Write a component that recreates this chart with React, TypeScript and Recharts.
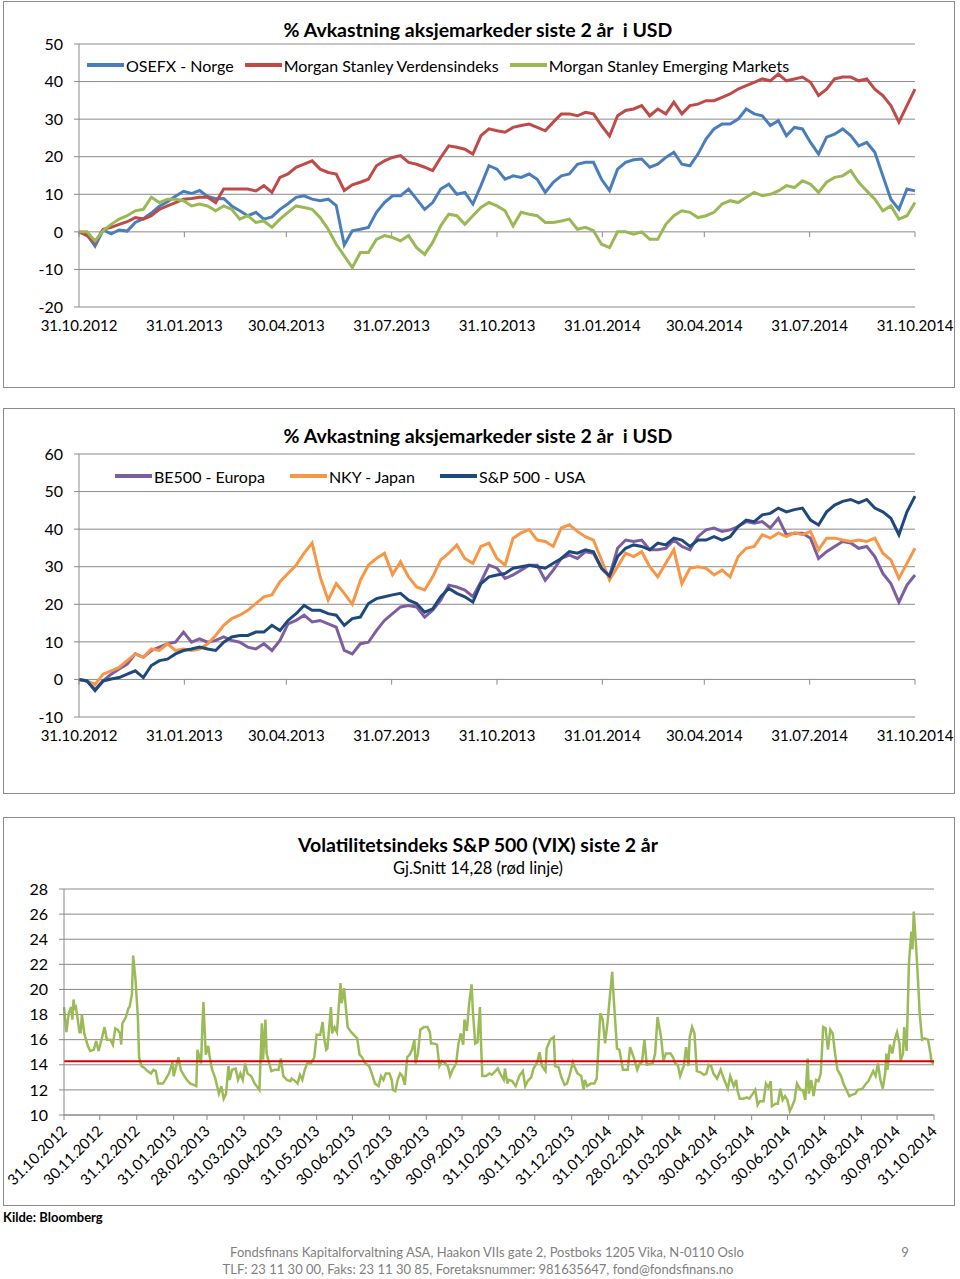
import React from "react";
import { LineChart, Line, XAxis, YAxis, CartesianGrid, ReferenceLine } from "recharts";

const FONT = "Lato, 'Open Sans', sans-serif";
const GRID = "#8a8a8a";

// x-axis labels (chart 1 and 2)
const quarterTicks = [
  "31.10.2012", "31.01.2013", "30.04.2013", "31.07.2013", "31.10.2013",
  "31.01.2014", "30.04.2014", "31.07.2014", "31.10.2014",
];

// x-axis labels (VIX chart)
const monthTicks = [
  "31.10.2012", "30.11.2012", "31.12.2012", "31.01.2013", "28.02.2013", "31.03.2013",
  "30.04.2013", "31.05.2013", "30.06.2013", "31.07.2013", "31.08.2013", "30.09.2013",
  "31.10.2013", "30.11.2013", "31.12.2013", "31.01.2014", "28.02.2014", "31.03.2014",
  "30.04.2014", "31.05.2014", "30.06.2014", "31.07.2014", "31.08.2014", "30.09.2014",
  "31.10.2014",
];

// weekly % return, 31.10.2012 - 31.10.2014
const osefx = [
  0, -0.8, -3.8, 0.5, -0.5, 0.5, 0.2, 2.5, 3.5, 5.0, 6.8, 8.0, 9.5, 10.8, 10.2, 11.0, 9.4, 8.8, 8.9, 6.9,
  5.6, 4.3, 5.2, 3.4, 4.0, 6.0, 7.5, 9.2, 9.6, 8.7, 8.3, 8.7, 7.0, -3.5, 0.3,
  0.7, 1.2, 5.2, 7.8, 9.6, 9.6, 11.4, 8.7, 6.0, 7.8, 11.4, 12.7, 10.0, 10.5, 7.4, 12.3, 17.6, 16.7, 14.0, 14.9,
  14.5, 15.4, 14.0, 10.5, 13.2, 14.9, 15.4, 18.0, 18.5, 18.5, 14.0, 11.0, 16.7, 18.5,
  19.2, 19.4, 17.2, 18.0, 19.8, 21.2, 18.0, 17.6, 20.7, 24.7, 27.4, 28.7, 28.7, 30.0, 32.7, 31.4, 30.9, 28.3,
  29.6, 25.6, 27.8, 27.4, 23.8, 20.7, 25.2, 26.0, 27.4, 25.6, 22.9, 23.8, 21.2, 14.9, 8.7, 6.0, 11.4, 10.9,
];
const msWorld = [
  0, -1, -2.8, 0.7, 1.2, 2.0, 2.7, 3.8, 3.4, 4.3, 6.0, 6.9, 7.8, 8.7, 8.9, 9.2, 9.2, 7.8, 11.4, 11.4,
  11.4, 11.4, 10.9, 12.3, 10.5, 14.5, 15.4, 17.2, 18.0, 18.9, 16.7, 15.8, 15.4, 11.0, 12.5,
  13.2, 14, 17.6, 18.9, 19.8, 20.3, 18.5, 18, 17.2, 16.3, 19.8, 22.9, 22.5, 22, 20.7, 25.6, 27.4, 26.9, 26.5, 27.8,
  28.3, 28.7, 27.8, 26.9, 29.2, 31.4, 31.4, 30.9, 31.8, 31.4, 28.3, 25.5, 30.9, 32.3,
  32.7, 33.6, 30.9, 32.7, 31.4, 34.5, 31.4, 33.6, 34, 34.9, 34.9, 35.8, 36.7, 38, 38.9, 39.8, 40.7, 40.2,
  42, 40.2, 40.7, 41.2, 39.8, 36.3, 38, 40.7, 41.2, 41.2, 40.2, 40.7, 38, 36.3, 33.6, 29.2, 33.6, 38,
];
const msEmerging = [
  0, 0, -2.4, 0.3, 2.0, 3.4, 4.3, 5.6, 6.0, 9.2, 7.8, 8.7, 8.7, 8.3, 6.9, 7.4, 6.9, 5.6, 6.9, 6.0,
  3.4, 4.3, 2.5, 2.9, 1.2, 3.4, 5.2, 6.9, 6.5, 6.0, 3.8, 0.7, -3.3, -6.4, -9.5,
  -5.5, -5.5, -2, -1, -1.5, -2.4, -1, -4.2, -6, -2.8, 1.6, 4.7, 4.3, 2.0, 4.3, 6.5, 7.8, 6.9, 5.6, 1.6,
  5.2, 4.7, 4.3, 2.5, 2.5, 2.9, 3.4, 0.7, 1.2, 0.3, -3.3, -4.2, 0, 0,
  -0.6, 0, -2, -2, 2, 4.3, 5.6, 5.2, 3.8, 4.3, 5.2, 7.4, 8.3, 7.8, 9.2, 10.5, 9.6, 10,
  10.9, 12.3, 11.8, 13.6, 12.7, 10.5, 13.2, 14.5, 14.9, 16.3, 13.2, 10.9, 8.7, 5.6, 6.9, 3.4, 4.3, 7.8,
];
const be500 = [
  0, -0.4, -2.6, -0.4, 1.4, 2.8, 4.1, 6.8, 5.9, 7.7, 8.6, 9.5, 9.9, 12.6, 9.9, 10.8, 9.9, 10.4, 11.3, 10.4,
  9.9, 8.6, 8.1, 9.5, 7.7, 10.4, 14.8, 15.7, 17.1, 15.3, 15.7, 14.8, 13.9, 7.7, 6.8,
  9.5, 9.9, 13, 15.7, 17.5, 19.3, 19.7, 19.3, 16.6, 18.4, 21.1, 25.1, 24.6, 23.8, 22, 26, 30.4, 29.6, 26.9, 27.8,
  29.1, 30.4, 30.4, 26.4, 29.1, 32.2, 33.1, 32.2, 34, 33.6, 29.6, 27.5, 34.9, 37.1,
  36.7, 37.1, 34.5, 34.5, 34.9, 37.1, 35.4, 34.5, 38, 39.8, 40.3, 39.4, 39.8, 40.7, 42, 41.6, 42, 40.3,
  42.9, 38.5, 38.9, 38.9, 37.6, 32.2, 34, 35.4, 36.7, 36.3, 34.9, 35.4, 32.7, 28.2, 25.5, 20.6, 25.1, 27.8,
];
const nky = [
  0, -0.4, -1.3, 1.4, 2.3, 3.2, 5, 6.8, 5.9, 8.1, 7.7, 9.5, 7.7, 8.1, 7.7, 8.1, 9.5, 11.7, 14.4, 16.2,
  17.1, 18.4, 20.2, 22, 22.5, 26, 28.2, 30.4, 33.6, 36.3, 27.3, 21.1, 25.5, 22.9, 20,
  26.4, 30.4, 32.2, 33.6, 27.9, 31.3, 27.3, 24.6, 23.8, 27.3, 31.8, 33.6, 35.8, 32.2, 30.9, 35.4, 36.3, 32.2, 30.4, 37.6,
  39, 39.9, 37.1, 36.7, 35.4, 40.3, 41.2, 39.4, 38, 37.1, 31.8, 26.5, 30, 33.6,
  32.7, 34, 30, 27.3, 30.9, 34.5, 25.5, 29.6, 30, 29.6, 27.8, 29.1, 27.3, 32.7, 34.9, 35.4, 38.5, 37.6,
  39, 38, 39, 38.5, 39.4, 34.5, 37.6, 37.6, 37.1, 36.7, 37.1, 36.7, 37.6, 33.6, 31.8, 26.9, 30.9, 34.9,
];
const sp500 = [
  0, -0.4, -3, -0.4, 0.1, 0.5, 1.4, 2.3, 0.5, 3.7, 5, 5.4, 6.8, 7.7, 8.1, 8.6, 8.1, 7.7, 9.9, 11.3,
  11.7, 11.7, 12.6, 12.6, 14.4, 13, 15.7, 17.5, 19.7, 18.4, 18.4, 17.5, 17.1, 14.4, 16.2,
  16.6, 20.2, 21.5, 22, 22.5, 22.9, 21.1, 20.2, 17.9, 18.8, 22, 24.2, 22.9, 22, 20.6, 25.5, 27.3, 27.8, 28.2, 29.6,
  30, 30.4, 30, 29.6, 30.9, 32.2, 34, 33.6, 34.5, 34, 29.6, 27.5, 32.7, 34.9,
  35.8, 35.4, 34.5, 36.3, 35.8, 37.6, 37.1, 35.4, 37.1, 37.1, 38, 37.1, 38, 40.7, 42.4, 42, 43.8, 44.2,
  45.6, 44.6, 45.2, 45.6, 42.4, 41.1, 44.6, 46.4, 47.4, 47.9, 47, 47.9, 45.6, 44.6, 42.9, 38.5, 44.6, 48.8,
];

// VIX: day since 31.10.2012 and index level
const vixDays = [
  0, 2, 4, 6, 7, 8, 9, 10, 13, 14, 15, 17, 20, 22, 25, 27, 29, 32, 34, 36, 39, 41, 43, 45, 47, 48, 49, 52, 54, 55,
  57, 58, 60, 62, 63, 65, 68, 70, 73, 75, 77, 79, 83, 85, 88, 91, 92, 96, 98, 101, 103, 106, 109, 111, 112, 115,
  116, 117, 118, 119, 121, 122, 124, 127, 130, 132, 134, 136, 138, 139, 141, 144, 146, 148, 150, 152, 154, 157,
  160, 164, 166, 167, 169, 170, 172, 174, 177, 180, 182, 184, 187, 190, 191, 194, 196, 198, 200, 202, 204, 207,
  210, 212, 215, 217, 218, 220, 221, 224, 225, 227, 229, 232, 233, 235, 238, 241, 243,
  246, 248, 250, 253, 256, 259, 261, 264, 266, 268, 270, 273, 275, 276, 278, 280, 282, 284, 286, 288, 290, 292,
  294, 295, 297, 299, 302, 305, 307, 308, 310, 313, 315, 317, 319, 322, 324, 326, 329, 331, 333, 335, 336, 338,
  340, 342, 343, 345, 347, 349, 350, 351, 354, 357, 359, 362, 364, 366, 369, 370, 372, 373, 376, 379, 382, 385,
  387, 389, 392, 394, 397, 399, 401, 404, 405, 408, 411, 412, 415, 417, 420, 422, 424, 427, 428, 431, 434, 436,
  437, 439, 442, 445, 447, 450, 452, 454, 456, 458, 460, 461, 464, 466, 469, 473, 475, 478, 481, 483, 485, 487,
  489, 494, 496, 498, 501, 503, 505, 509, 511, 513, 515, 517, 520, 522, 524, 525, 527, 529, 531, 534, 537, 539,
  541, 543, 545, 548, 551, 554, 557, 559, 562, 564, 565, 567, 570, 573, 575, 578, 580, 582, 584, 587, 589, 591,
  593, 594, 597, 599, 601, 603, 605, 607, 609, 611, 613, 615, 618, 620, 622, 624, 625, 627, 629, 631, 633, 635,
  637, 639, 641, 643, 645, 647, 649, 652, 654, 656, 659, 661, 664, 666, 670, 673, 675, 677, 679, 681, 683, 685,
  687, 689, 690, 691, 693, 695, 697, 699, 701, 702, 704, 705, 707, 709, 711, 712, 713, 715, 717, 718, 720, 722,
  725, 727, 728, 730,
];
const vixValues = [
  18.6, 16.6, 18.1, 18.6, 17.6, 19.2, 18.5, 18.6, 16.6, 16.6, 18.0, 16.5, 15.5, 15.1, 15.2, 15.9, 15.1, 16.2, 17.0, 16.0,
  16.0, 15.6, 16.9, 16.8, 16.5, 15.6, 17.3, 17.8, 18.5, 18.6,
  19.6, 22.7, 20.8, 17.8, 14.6, 13.9, 13.7, 13.5, 13.3, 13.6, 13.5, 12.5, 12.5, 12.8, 13.3, 14.2, 13.1, 14.6, 13.6, 13.1,
  12.8, 12.5, 12.4, 12.3, 15.2, 14.1,
  16.8, 19.0, 16.8, 14.8, 15.5, 14.8, 13.7, 12.9, 11.7, 12.3, 11.3, 11.7, 13.9, 12.8, 13.6, 13.7, 12.8, 13.3, 12.8, 14.1,
  13.3, 13.1,
  12.5, 12.0, 17.3, 14.4, 17.6, 14.9, 14.2, 13.5, 13.6, 13.6, 14.5, 13.1, 12.8, 12.7, 12.9, 12.7, 12.5, 13.2, 12.8, 13.6,
  14.1, 14.1,
  14.6, 16.4, 16.4, 17.4, 16.3, 15.2, 15.3, 18.6, 16.5, 17.0, 16.6, 20.5, 18.9, 20.1, 17.0, 16.6, 16.4,
  16.1, 14.8, 14.6, 14.1, 13.9, 13.1, 12.5, 12.3, 13.1, 12.8, 13.3, 13.3, 12.8, 12.0, 11.9, 12.8, 13.3, 13.1, 12.4, 14.6,
  14.8, 15.2,
  16.0, 14.1, 14.9, 16.8, 17.0, 17.0, 16.6, 15.7, 15.7, 15.6, 13.9, 14.3, 14.2, 13.9, 13.1, 13.6, 14.1, 15.7, 16.5, 15.6,
  17.6, 16.7,
  18.9, 20.4, 18.4, 15.7, 15.8, 18.6, 15.5, 13.1, 13.1, 13.3, 13.2, 13.5, 13.7, 13.3, 12.8, 13.7, 12.5, 12.8, 12.7, 12.3,
  13.1, 13.5,
  12.3, 12.7, 13.0, 13.7, 14.2, 15.0, 13.9, 13.5, 15.3, 16.0, 16.2, 13.9, 13.8, 13.1, 12.4, 12.5, 13.1, 14.2, 13.9, 13.3,
  13.1, 12.0,
  12.8, 12.3, 12.5, 12.5, 12.9, 18.1, 17.6, 15.7, 17.3, 19.4, 21.4, 19.7, 15.3, 15.2, 13.6, 13.6, 15.4, 14.6, 13.6, 14.1,
  14.2, 16.0,
  14.0, 14.1, 14.9, 17.8, 16.2, 14.3, 14.9, 14.9, 14.6, 14.1, 14.0, 13.1, 13.9, 15.4, 13.9, 16.2, 17.0, 16.5, 13.5, 13.4,
  13.2, 13.3,
  14.0, 13.9, 13.3, 12.9, 13.6, 12.8, 12.1, 13.1, 12.3, 12.8, 12.0, 11.3, 11.3, 11.4, 11.3, 11.7, 12.0, 10.8, 11.1, 11.1,
  12.5, 12.2,
  12.7, 10.7, 10.9, 10.9, 12.1, 11.2, 11.5, 11.2, 10.3, 10.7, 11.2, 12.5, 12.0, 12.0, 11.2, 14.5, 11.7, 12.8, 11.5, 12.8,
  12.7, 13.3,
  17.0, 16.9, 15.2, 16.8, 16.5, 14.9, 13.6, 13.1, 12.5, 12.1, 11.5, 11.6, 11.7, 12.0, 12.1, 12.5, 12.7, 13.1, 13.5, 13.1,
  14.1, 12.8,
  12.1, 13.3, 14.9, 13.6, 15.6, 14.9, 16.0, 16.6, 15.7, 14.3, 14.9, 17.0, 15.1, 22.1, 24.6, 23.2, 26.2, 23.4, 20.0, 18.1,
  16.0, 16.1,
  16.0, 14.9, 14.2, 14.1,
];
const vixAverage = 14.28;

const dayOf = (label: string) => {
  const [d, m, y] = label.split(".").map(Number);
  return (Date.UTC(y, m - 1, d) - Date.UTC(2012, 9, 31)) / 86400000;
};
const quarterDays = quarterTicks.map(dayOf);
const monthDays = monthTicks.map(dayOf);
const LAST_DAY = dayOf("31.10.2014");
const labelFor = (ticks: string[]) => (v: number) => ticks.find((t) => dayOf(t) === v) ?? "";

const weekly = (series: Record<string, number[]>) => {
  const keys = Object.keys(series);
  const n = series[keys[0]].length;
  return series[keys[0]].map((_, i) => {
    const row: Record<string, number> = { day: (i * LAST_DAY) / (n - 1) };
    keys.forEach((k) => (row[k] = series[k][i]));
    return row;
  });
};

const data1 = weekly({ osefx, msWorld, msEmerging });
const data2 = weekly({ be500, nky, sp500 });
const vixData = vixDays.map((d, i) => ({ day: d, vix: vixValues[i] }));

type SeriesDef = { key: string; name: string; color: string };

const series1: SeriesDef[] = [
  { key: "osefx", name: "OSEFX - Norge", color: "#4A7EBB" },
  { key: "msWorld", name: "Morgan Stanley Verdensindeks", color: "#BE4B48" },
  { key: "msEmerging", name: "Morgan Stanley Emerging Markets", color: "#98B954" },
];
const series2: SeriesDef[] = [
  { key: "be500", name: "BE500 - Europa", color: "#7D5FA0" },
  { key: "nky", name: "NKY - Japan", color: "#F79646" },
  { key: "sp500", name: "S&P 500 - USA", color: "#1F497D" },
];

const Box = ({ top, height }: { top: number; height: number }) => (
  <div
    style={{
      position: "absolute", left: 3, top, width: 952, height,
      border: "1.5px solid #8c8c8c", boxSizing: "border-box",
    }}
  />
);

const Text = ({ cy, left = 0, width = 956, size, bold, color = "#000", align = "center", children }: any) => (
  <div
    style={{
      position: "absolute", left, width, top: cy - size * 0.6, lineHeight: `${size * 1.2}px`,
      fontSize: size, fontWeight: bold ? 700 : 400, color, textAlign: align, whiteSpace: "pre",
      fontFamily: FONT,
    }}
  >
    {children}
  </div>
);

const LegendRow = ({ items, left, cy, gap }: { items: SeriesDef[]; left: number; cy: number; gap: number }) => (
  <div
    style={{
      position: "absolute", left, top: cy - 10, height: 20, display: "flex", alignItems: "center",
      gap, fontSize: 16, fontFamily: FONT, whiteSpace: "nowrap",
    }}
  >
    {items.map((s) => (
      <div key={s.key} style={{ display: "flex", alignItems: "center", gap: 2 }}>
        <span style={{ display: "inline-block", width: 37, height: 3.5, background: s.color }} />
        <span>{s.name}</span>
      </div>
    ))}
  </div>
);

const ReturnChart = ({
  top, height, marginTop, data, series, yMin, yMax,
}: {
  top: number; height: number; marginTop: number; data: any[]; series: SeriesDef[]; yMin: number; yMax: number;
}) => {
  const yTicks: number[] = [];
  for (let v = yMin; v <= yMax; v += 10) yTicks.push(v);
  const tickLen = (yMax - yMin) / 50;
  return (
    <div style={{ position: "absolute", left: 0, top }}>
      <LineChart width={960} height={height} data={data} margin={{ top: marginTop, right: 45, bottom: height - marginTop - 262 - 30 - 1, left: 0 }}>
        <CartesianGrid vertical={false} stroke={GRID} strokeWidth={1} />
        <XAxis
          type="number" dataKey="day" domain={[0, LAST_DAY]} ticks={quarterDays} height={30}
          tickFormatter={labelFor(quarterTicks)} axisLine={false} tickLine={false} tickSize={0} tickMargin={13}
          interval={0} tick={{ fill: "#000", fontSize: 15, fontFamily: FONT }}
        />
        <YAxis
          type="number" domain={[yMin, yMax]} ticks={yTicks} width={79} interval={0}
          axisLine={{ stroke: GRID }} tickLine={{ stroke: GRID }} tickSize={5} tickMargin={11}
          tick={{ fill: "#000", fontSize: 16, fontFamily: FONT }}
        />
        {quarterDays.map((d) => (
          <ReferenceLine key={d} segment={[{ x: d, y: 0 }, { x: d, y: -tickLen }]} stroke={GRID} ifOverflow="visible" />
        ))}
        {series.map((s) => (
          <Line
            key={s.key} type="linear" dataKey={s.key} name={s.name} stroke={s.color} strokeWidth={3}
            dot={false} isAnimationActive={false}
          />
        ))}
      </LineChart>
    </div>
  );
};

const RotatedTick = (props: any) => {
  const { x, y, payload } = props;
  return (
    <g transform={`translate(${x + 4},${y + 10}) rotate(-45)`}>
      <text textAnchor="end" fontSize={15} fill="#000" fontFamily={FONT}>
        {labelFor(monthTicks)(payload.value)}
      </text>
    </g>
  );
};

const VixChart = () => (
  <div style={{ position: "absolute", left: 0, top: 810 }}>
    <LineChart width={960} height={400} data={vixData} margin={{ top: 79, right: 26, bottom: 15, left: 0 }}>
      <CartesianGrid vertical={false} stroke={GRID} strokeWidth={1} />
      <XAxis
        type="number" dataKey="day" domain={[0, LAST_DAY]} ticks={monthDays} height={80} interval={0}
        axisLine={{ stroke: GRID }} tickLine={{ stroke: GRID }} tickSize={5} tickMargin={2}
        tick={<RotatedTick />}
      />
      <YAxis
        type="number" domain={[10, 28]} ticks={[10, 12, 14, 16, 18, 20, 22, 24, 26, 28]} width={64} interval={0}
        axisLine={{ stroke: GRID }} tickLine={{ stroke: GRID }} tickSize={5} tickMargin={11}
        tick={{ fill: "#000", fontSize: 16, fontFamily: FONT }}
      />
      <Line
        type="linear" dataKey="vix" name="VIX" stroke="#9BBB59" strokeWidth={2.5} dot={false}
        isAnimationActive={false}
      />
      <ReferenceLine y={vixAverage} stroke="#D80000" strokeWidth={2} />
    </LineChart>
  </div>
);

export default function App() {
  return (
    <div
      style={{
        position: "absolute", left: 0, top: 0, width: 960, height: 1279, background: "#fff",
        fontFamily: FONT, overflow: "hidden",
      }}
    >
      <Box top={1} height={387} />
      <Box top={408} height={386} />
      <Box top={817} height={389} />

      <ReturnChart top={0} height={390} marginTop={44} data={data1} series={series1} yMin={-20} yMax={50} />
      <Text cy={30} size={19.5} bold>{"% Avkastning aksjemarkeder siste 2 år  i USD"}</Text>
      <LegendRow items={series1} left={87} cy={65} gap={11} />

      <ReturnChart top={400} height={400} marginTop={54} data={data2} series={series2} yMin={-10} yMax={60} />
      <Text cy={436} size={19.5} bold>{"% Avkastning aksjemarkeder siste 2 år  i USD"}</Text>
      <LegendRow items={series2} left={115} cy={476} gap={25} />

      <VixChart />
      <Text cy={845} size={19.5} bold>Volatilitetsindeks S&amp;P 500 (VIX) siste 2 år</Text>
      <Text cy={869} size={16.5}>Gj.Snitt 14,28 (rød linje)</Text>

      <Text cy={1218} left={3} width={300} size={13} bold align="left">Kilde: Bloomberg</Text>
      <Text cy={1253} left={0} width={974} size={13} color="#7f7f7f">
        Fondsfinans Kapitalforvaltning ASA, Haakon VIIs gate 2, Postboks 1205 Vika, N-0110 Oslo
      </Text>
      <Text cy={1253} left={895} width={20} size={13} color="#7f7f7f">9</Text>
      <Text cy={1270} left={0} width={956} size={13} color="#7f7f7f">
        TLF: 23 11 30 00, Faks: 23 11 30 85, Foretaksnummer: 981635647, fond@fondsfinans.no
      </Text>
    </div>
  );
}
